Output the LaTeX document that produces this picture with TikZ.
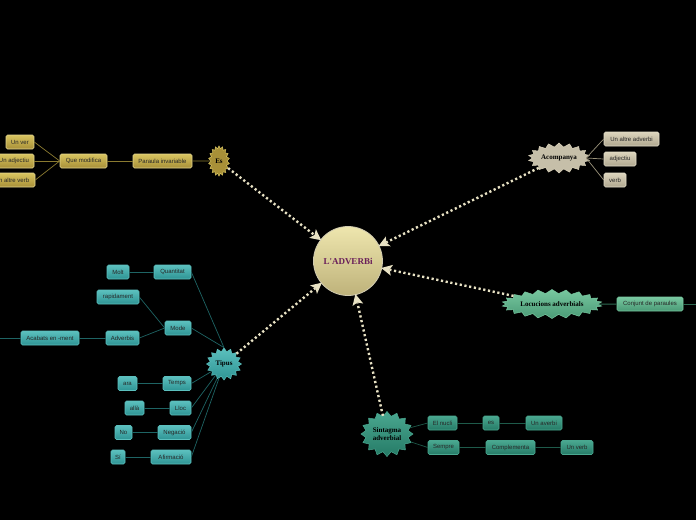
\documentclass[tikz,border=0pt]{standalone}
\usepackage{fontspec}
\setmainfont{Liberation Sans}
\newfontfamily\boldserif{Liberation Serif}
\usetikzlibrary{shapes.symbols,arrows.meta}
\definecolor{bgc}{HTML}{000000}
\definecolor{cream}{HTML}{E8E2C4}
\definecolor{goldA}{HTML}{D8C460}
\definecolor{goldB}{HTML}{A89038}
\definecolor{goldL}{HTML}{8A7A30}
\definecolor{greyA}{HTML}{DCD4BC}
\definecolor{greyB}{HTML}{B0A890}
\definecolor{greyL}{HTML}{9A927A}
\definecolor{grnA}{HTML}{78C8A0}
\definecolor{grnB}{HTML}{4A9A76}
\definecolor{grnL}{HTML}{2E6A52}
\definecolor{tealA}{HTML}{5CC0BE}
\definecolor{tealB}{HTML}{2E9494}
\definecolor{tealL}{HTML}{1E6464}
\definecolor{sinA}{HTML}{4AA890}
\definecolor{sinB}{HTML}{257A66}
\definecolor{sinL}{HTML}{1E5A4A}
\definecolor{centA}{HTML}{EEE6AE}
\definecolor{centB}{HTML}{BEB27A}
\definecolor{purp}{HTML}{6A1F5A}
\tikzset{
  box/.style={rounded corners=1.5pt, minimum height=14pt, inner sep=1.5pt,
    font=\fontsize{6}{7}\selectfont, text=black!85, line width=0.6pt},
  goldbox/.style={box, draw=goldA!70!white, top color=goldA, bottom color=goldB},
  greybox/.style={box, draw=greyA!80!white, top color=greyA, bottom color=greyB},
  grnbox/.style={box, draw=grnA, top color=grnA, bottom color=grnB},
  tealbox/.style={box, draw=tealA, top color=tealA, bottom color=tealB},
  sinbox/.style={box, draw=sinA, top color=sinA, bottom color=sinB},
  burst/.style={starburst, random starburst=0, inner sep=1pt,
    font=\boldserif\bfseries\fontsize{7}{8}\selectfont, align=center, text=black},
  dotc/.style={draw=cream, line width=2.4pt, dash pattern=on 2.2pt off 2.6pt,
    -{Stealth[length=11pt,width=11pt,inset=2.5pt,fill=cream,line width=0pt]}, shorten >=-1pt},
  gl/.style={draw=goldL, line width=0.7pt},
  grl/.style={draw=greyL, line width=0.7pt},
  gnl/.style={draw=grnL, line width=1pt},
  tl/.style={draw=tealL, line width=0.7pt},
  sl/.style={draw=sinL, line width=0.7pt},
}
\begin{document}
\begin{tikzpicture}[x=1pt,y=-1pt]
\fill[bgc] (0,0) rectangle (696,520);
\useasboundingbox (0,0) rectangle (696,520);

% center
\node[circle, minimum size=69pt, draw=cream!90!black, line width=0.8pt, top color=centA, bottom color=centB,
  font=\boldserif\bfseries\fontsize{9}{10}\selectfont, text=purp] (c) at (348,261) {L'ADVERBi};

% ===== Es group (gold)
\node[burst, starburst points=18, starburst point height=2.5pt, minimum width=21pt, minimum height=30pt,
  fill=goldB, draw=goldA, line width=0.5pt] (es) at (219,161) {Es};
\node[goldbox, minimum width=59pt] (pi) at (162.5,161) {Paraula invariable};
\node[goldbox, minimum width=47pt] (qm) at (83.5,161) {Que modifica};
\node[goldbox, minimum width=28pt] (uv) at (20,142) {Un ver};
\node[goldbox, minimum width=40pt] (ua) at (14,161) {Un adjectiu};
\node[goldbox, minimum width=46pt] (uav) at (12,180) {Un altre verb};
\draw[gl] (es) -- (pi.east);
\draw[gl] (pi.west) -- (qm.east);
\draw[gl] (qm.west) -- (uv.east);
\draw[gl] (qm.west) -- (ua.east);
\draw[gl] (qm.west) -- (uav.east);

% ===== Acompanya (grey)
\node[burst, starburst points=18, starburst point height=4pt, minimum width=60pt, minimum height=30pt,
  fill=greyA!90!black, draw=greyA, line width=0.5pt] (ac) at (559,158) {Acompanya};
\node[greybox, minimum width=55pt] (uad) at (631.5,139) {Un altre adverbi};
\node[greybox, minimum width=32pt] (adj) at (620,159) {adjectiu};
\node[greybox, minimum width=22pt] (vb) at (615,180) {verb};
\draw[grl] (ac.east) -- (uad.west);
\draw[grl] (ac.east) -- (adj.west);
\draw[grl] (ac.east) -- (vb.west);

% ===== Locucions (green)
\node[burst, starburst points=22, starburst point height=4pt, minimum width=98pt, minimum height=29pt,
  top color=grnA, bottom color=grnB, draw=grnA, line width=0.5pt] (lo) at (552,304) {Locucions adverbials};
\node[grnbox, minimum width=66pt] (cp) at (650,304) {Conjunt de paraules};
\coordinate (lor) at (696,304);
\draw[gnl] (lo.east) -- (cp.west);
\draw[gnl] (cp.east) -- (lor);

% ===== Tipus (teal)
\node[burst, starburst points=16, starburst point height=3.5pt, minimum width=35pt, minimum height=32pt,
  top color=tealA, bottom color=tealB, draw=tealA, line width=0.5pt] (ti) at (224,364) {Tipus};
\node[tealbox, minimum width=37pt] (qu) at (172.5,272) {Quantitat};
\node[tealbox, minimum width=22pt] (mo) at (118,272) {Molt};
\node[tealbox, minimum width=42pt] (ra) at (118,297) {rapidament};
\node[tealbox, minimum width=26pt] (md) at (178,328) {Mode};
\node[tealbox, minimum width=33pt] (ad) at (122.5,338) {Adverbis};
\node[tealbox, minimum width=58pt] (ab) at (50,338) {Acabats en -ment};
\coordinate (abl) at (0,338);
\node[tealbox, minimum width=28pt] (te) at (177,383.5) {Temps};
\node[tealbox, minimum width=19pt] (ar) at (127.5,383.5) {ara};
\node[tealbox, minimum width=21pt] (ll) at (180.5,408) {Lloc};
\node[tealbox, minimum width=19pt] (al) at (134.5,408) {allà};
\node[tealbox, minimum width=33pt] (ne) at (174.5,432.5) {Negació};
\node[tealbox, minimum width=17pt] (no) at (123.5,432.5) {No};
\node[tealbox, minimum width=40pt] (af) at (171,457) {Afirmació};
\node[tealbox, minimum width=14pt] (si) at (118,457) {Sí};
\draw[tl] (ti.north) -- (qu.east);
\draw[tl] (ti.north) -- (md.east);
\draw[tl] (ti) -- (te.east);
\draw[tl] (ti) -- (ll.east);
\draw[tl] (ti) -- (ne.east);
\draw[tl] (ti) -- (af.east);
\draw[tl] (qu.west) -- (mo.east);
\draw[tl] (md.west) -- (ra.east);
\draw[tl] (md.west) -- (ad.east);
\draw[tl] (ad.west) -- (ab.east);
\draw[tl] (ab.west) -- (abl);
\draw[tl] (te.west) -- (ar.east);
\draw[tl] (ll.west) -- (al.east);
\draw[tl] (ne.west) -- (no.east);
\draw[tl] (af.west) -- (si.east);

% ===== Sintagma (dark green)
\node[burst, starburst points=16, starburst point height=4.5pt, minimum width=51pt, minimum height=45pt,
  top color=sinA, bottom color=sinB, draw=sinA, line width=0.5pt] (si2) at (387,434) {Sintagma\\adverbial};
\node[sinbox, minimum width=29pt] (en) at (442.5,423) {El nucli};
\node[sinbox, minimum width=16pt] (esb) at (491,423) {es};
\node[sinbox, minimum width=36pt] (uab) at (544,423) {Un averbi};
\node[sinbox, minimum width=31pt] (se) at (443.5,447.5) {Sempre};
\node[sinbox, minimum width=49pt] (co) at (510.5,447.5) {Complementa};
\node[sinbox, minimum width=32pt] (uvb) at (577,447.5) {Un verb};
\draw[sl] (si2) -- (en.west);
\draw[sl] (si2) -- (se.west);
\draw[sl] (en.east) -- (esb.west);
\draw[sl] (esb.east) -- (uab.west);
\draw[sl] (se.east) -- (co.west);
\draw[sl] (co.east) -- (uvb.west);

% ===== dotted connectors
\draw[dotc] (es) -- (c);
\draw[dotc] (ac) -- (c);
\draw[dotc] (lo) -- (c);
\draw[dotc] (ti) -- (c);
\draw[dotc] (si2) -- (c);
\end{tikzpicture}
\end{document}
